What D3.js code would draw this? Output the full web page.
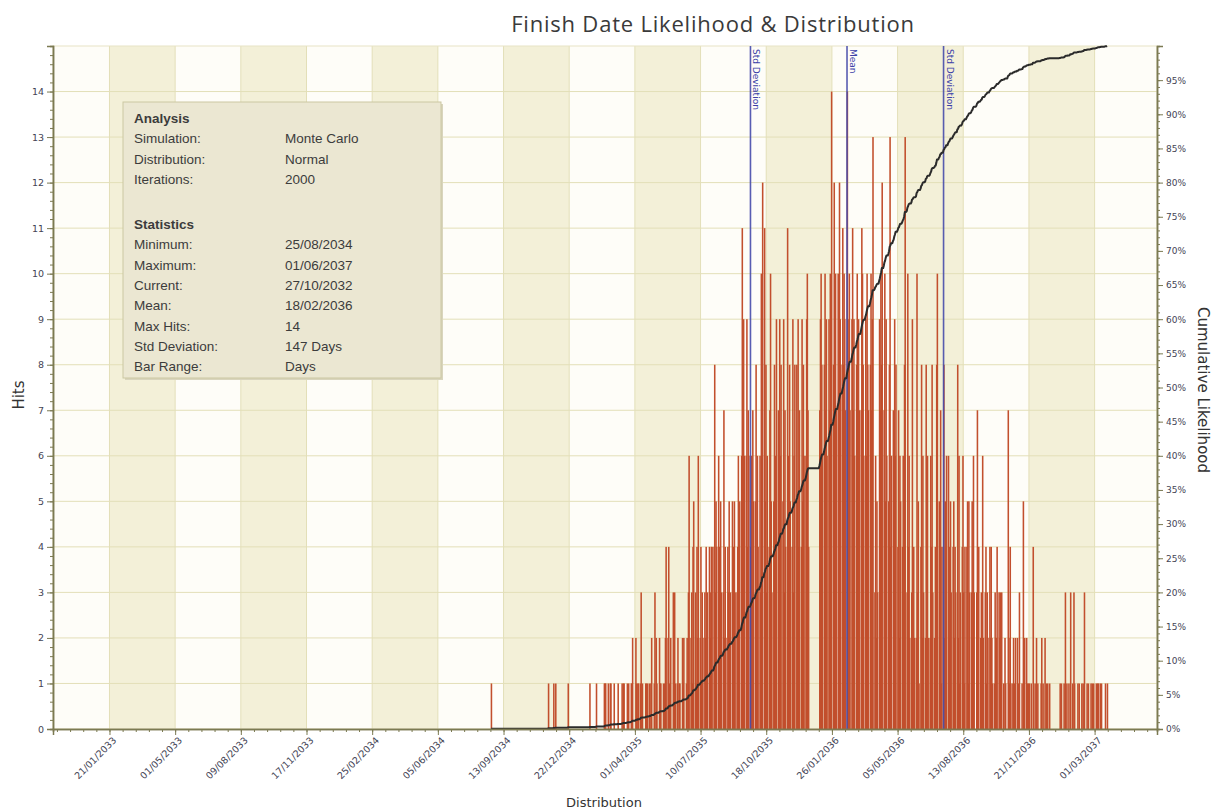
<!DOCTYPE html>
<html>
<head>
<meta charset="utf-8">
<script src="https://cdn.jsdelivr.net/npm/d3@7"></script>
<style>
  body { margin: 0; background: #ffffff; }
  svg text { font-family: "DejaVu Sans", Verdana, sans-serif; }
</style>
</head>
<body>
<div id="chart"></div>
<script>

// hits per working day, Mon..Fri, one hex digit per day, one string per week
const firstMonday = "21/08/2034";
const weeks2034 = ["00001", "00000", "00000", "00000", "00000", "00000", "00000", "00000", "00000", "00000",
                   "00000", "00000", "00000", "10000", "01001", "00000", "00000", "00100", "00000"];
const weeks2035 = ["00000", "00000", "00000", "10000", "00010", "00000", "01110", "10011", "00100", "01000",
                   "10110", "01010", "11200", "21011", "13010", "01101", "10120", "13021", "02110", "10124",
                   "24102", "03131", "12011", "02120", "12036", "23145", "31426", "24132", "32413", "43244",
                   "48354", "64253", "37242", "43523", "52453", "34635", "6b596", "69476", "46375", "58364",
                   "63a5c", "b5836", "47a53", "58469", "74968", "59374", "b6485", "49368", "85947", "49586",
                   "69a74", "00000", "00000"];
const weeks2036 = ["79a86", "8a796", "97a8e", "8c9a7", "a7c98", "b8a97", "e98a7", "9b796", "8a697", "7ba86",
                   "96a87", "8a79d", "36253", "97a8c", "7a596", "58d46", "74968", "47265", "4638d", "3a462",
                   "39142", "2a351", "48263", "28162", "26483", "2418a", "53714", "82516", "64253", "45243",
                   "82613", "46314", "45153", "35263", "03714", "23162", "34132", "42421", "13224", "32313",
                   "10210", "72141", "12102", "20130", "10512", "21011", "10041", "12010", "01201", "20101",
                   "10000", "00000"];
const weeks2037 = ["00101", "01031", "10013", "10310", "01010", "10103", "01010", "10101", "01011", "10100",
                   "01001"];

const tickLabels = ["21/01/2033", "01/05/2033", "09/08/2033", "17/11/2033", "25/02/2034", "05/06/2034",
                    "13/09/2034", "22/12/2034", "01/04/2035", "10/07/2035", "18/10/2035", "26/01/2036",
                    "05/05/2036", "13/08/2036", "21/11/2036", "01/03/2037"];
const hitTicks = [0, 1, 2, 3, 4, 5, 6, 7, 8, 9, 10, 11, 12, 13, 14];
const pctTicks = [0, 5, 10, 15, 20, 25, 30, 35, 40, 45, 50, 55, 60, 65, 70, 75, 80, 85, 90, 95];

const analysisRows = [["Simulation:", "Monte Carlo"], ["Distribution:", "Normal"], ["Iterations:", "2000"]];
const statsRows = [["Minimum:", "25/08/2034"], ["Maximum:", "01/06/2037"], ["Current:", "27/10/2032"],
                   ["Mean:", "18/02/2036"], ["Max Hits:", "14"], ["Std Deviation:", "147 Days"],
                   ["Bar Range:", "Days"]];

const meanDate = "18/02/2036";
const stdDays = 147;
const domainStart = "27/10/2032";
const domainEnd = "04/06/2037";

const W = 1215, H = 812;
const margin = {top: 46, right: 58, bottom: 83, left: 53};
const parseDMY = d3.utcParse("%d/%m/%Y");

// daily series from the weekly strings (weekends are zero)
const allWeeks = weeks2034.concat(weeks2035, weeks2036, weeks2037);
const start = parseDMY(firstMonday);
const days = [];
allWeeks.forEach((w, k) => {
    for (let i = 0; i < 7; i++) {
        const v = i < 5 ? parseInt(w[i], 16) : 0;
        days.push({date: d3.utcDay.offset(start, k * 7 + i), hits: v});
    }
});
const total = d3.sum(days, d => d.hits);
let run = 0;
days.forEach(d => { run += d.hits; d.cum = run / total; });
const firstHit = days.findIndex(d => d.hits > 0);
const lastHit = days.length - 1 - days.slice().reverse().findIndex(d => d.hits > 0);
const curve = days.slice(firstHit, lastHit + 1);

const svg = d3.select("#chart").append("svg")
    .attr("width", W)
    .attr("height", H);

const x = d3.scaleUtc()
    .domain([parseDMY(domainStart), parseDMY(domainEnd)])
    .range([margin.left, W - margin.right]);
const y = d3.scaleLinear()
    .domain([0, 15])
    .range([H - margin.bottom, margin.top]);
const yPct = d3.scaleLinear()
    .domain([0, 1])
    .range([H - margin.bottom, margin.top]);

const plotTop = margin.top, plotBottom = H - margin.bottom;
const tickDates = tickLabels.map(parseDMY);

// alternating bands between date ticks
const edges = [x.domain()[0]].concat(tickDates, [x.domain()[1]]);
svg.append("g").selectAll("rect")
    .data(d3.pairs(edges))
    .join("rect")
    .attr("x", d => x(d[0]))
    .attr("width", d => x(d[1]) - x(d[0]))
    .attr("y", plotTop)
    .attr("height", plotBottom - plotTop)
    .attr("fill", (d, i) => i % 2 === 1 ? "#f3f0d8" : "#fefdf8");

// grid
svg.append("g").selectAll("line")
    .data(hitTicks.slice(1))
    .join("line")
    .attr("x1", margin.left).attr("x2", W - margin.right)
    .attr("y1", d => y(d)).attr("y2", d => y(d))
    .attr("stroke", "#e3dfb8").attr("stroke-width", 1);
svg.append("g").selectAll("line")
    .data(tickDates)
    .join("line")
    .attr("x1", d => x(d)).attr("x2", d => x(d))
    .attr("y1", plotTop).attr("y2", plotBottom)
    .attr("stroke", "#e3dfb8").attr("stroke-width", 1);
svg.append("rect")
    .attr("x", margin.left).attr("y", plotTop)
    .attr("width", W - margin.left - margin.right).attr("height", plotBottom - plotTop)
    .attr("fill", "none").attr("stroke", "#e8e4c6");

// bars
svg.append("g").selectAll("rect")
    .data(days.filter(d => d.hits > 0))
    .join("rect")
    .attr("x", d => x(d.date) - 0.4)
    .attr("width", d => x(d3.utcDay.offset(d.date, 1)) - x(d.date) + 0.9)
    .attr("y", d => y(d.hits))
    .attr("height", d => y(0) - y(d.hits))
    .attr("fill", "#c24f2d");

// mean and std deviation markers
const mean = parseDMY(meanDate);
const markers = [
    {label: "Std Deviation", date: d3.utcDay.offset(mean, -stdDays)},
    {label: "Mean", date: mean},
    {label: "Std Deviation", date: d3.utcDay.offset(mean, stdDays)}
];
svg.append("g").selectAll("line")
    .data(markers)
    .join("line")
    .attr("x1", d => x(d.date)).attr("x2", d => x(d.date))
    .attr("y1", plotTop).attr("y2", plotBottom)
    .attr("stroke", "#474cab").attr("stroke-width", 1.6).attr("opacity", 0.9);
svg.append("g").selectAll("text")
    .data(markers)
    .join("text")
    .attr("transform", d => `translate(${x(d.date) + 3}, ${plotTop + 3}) rotate(90)`)
    .attr("font-size", 9)
    .attr("fill", "#3b3fa8")
    .text(d => d.label);

// cumulative likelihood
const line = d3.line()
    .x(d => x(d.date))
    .y(d => yPct(d.cum));
svg.append("path")
    .datum(curve)
    .attr("d", line)
    .attr("fill", "none")
    .attr("stroke", "#2b2b2b")
    .attr("stroke-width", 2)
    .attr("stroke-linejoin", "round");

// axes
const axisColor = "#7b7a52";
function styleAxis(g) {
    g.select(".domain").attr("stroke", axisColor).attr("stroke-width", 1.5);
    g.selectAll(".tick line").attr("stroke", axisColor);
    g.selectAll(".tick text").attr("fill", "#444455").attr("font-family", "DejaVu Sans");
}

const minorX = d3.utcDay.range(parseDMY(domainStart), parseDMY(domainEnd))
    .filter(d => Math.round((d - tickDates[0]) / 864e5) % 20 === 0);
svg.append("g")
    .attr("transform", `translate(0, ${plotBottom})`)
    .call(d3.axisBottom(x).tickValues(minorX).tickSize(3).tickFormat(""))
    .call(styleAxis);
const xAxis = svg.append("g")
    .attr("transform", `translate(0, ${plotBottom})`)
    .call(d3.axisBottom(x).tickValues(tickDates).tickSize(6).tickFormat((d, i) => tickLabels[i]))
    .call(styleAxis);
xAxis.selectAll(".tick text")
    .attr("font-size", 9.5)
    .attr("text-anchor", "end")
    .attr("transform", "translate(2, 4) rotate(-45)")
    .attr("dy", "0.35em")
    .attr("y", 6)
    .attr("x", -2);

svg.append("g")
    .attr("transform", `translate(${margin.left}, 0)`)
    .call(d3.axisLeft(y).tickValues(d3.range(0, 15.01, 0.2)).tickSize(3).tickFormat(""))
    .call(styleAxis);
svg.append("g")
    .attr("transform", `translate(${margin.left}, 0)`)
    .call(d3.axisLeft(y).tickValues(hitTicks).tickSize(6))
    .call(styleAxis)
    .selectAll(".tick text").attr("font-size", 9.5);

svg.append("g")
    .attr("transform", `translate(${W - margin.right}, 0)`)
    .call(d3.axisRight(yPct).tickValues(d3.range(0, 1.0001, 0.01)).tickSize(3).tickFormat(""))
    .call(styleAxis);
svg.append("g")
    .attr("transform", `translate(${W - margin.right}, 0)`)
    .call(d3.axisRight(yPct).tickValues(pctTicks.map(p => p / 100)).tickSize(6).tickFormat(d3.format(".0%")))
    .call(styleAxis)
    .selectAll(".tick text").attr("font-size", 9);

// titles
svg.append("text")
    .attr("x", 713).attr("y", 32)
    .attr("text-anchor", "middle")
    .style("font-family", "'Open Sans', sans-serif")
    .attr("font-size", 22)
    .attr("letter-spacing", 0.8)
    .attr("fill", "#3a3a3a")
    .text("Finish Date Likelihood & Distribution");
svg.append("text")
    .attr("x", 604).attr("y", 807)
    .attr("text-anchor", "middle")
    .attr("font-size", 13)
    .attr("fill", "#333")
    .text("Distribution");
svg.append("text")
    .attr("transform", "translate(24, 395) rotate(-90)")
    .attr("text-anchor", "middle")
    .attr("font-size", 15)
    .attr("fill", "#333")
    .text("Hits");
svg.append("text")
    .attr("transform", "translate(1198, 390) rotate(90)")
    .attr("text-anchor", "middle")
    .attr("font-size", 15)
    .attr("fill", "#333")
    .text("Cumulative Likelihood");

// info box
const box = svg.append("g").attr("transform", "translate(123, 102)");
box.append("rect")
    .attr("x", 2).attr("y", 2).attr("width", 318).attr("height", 276)
    .attr("fill", "#d9d5bd");
box.append("rect")
    .attr("width", 318).attr("height", 276)
    .attr("fill", "#ebe7d2")
    .attr("stroke", "#cbc7a2");
const rowH = 20.3;
function boxText(txt, xPos, yPos, bold) {
    box.append("text")
        .attr("x", xPos).attr("y", yPos)
        .style("font-family", "'Liberation Sans', Arial, sans-serif")
        .attr("font-size", 13.5)
        .attr("font-weight", bold ? "bold" : "normal")
        .attr("fill", "#3c3c3c")
        .text(txt);
}
boxText("Analysis", 11, 21, true);
analysisRows.forEach((r, i) => {
    boxText(r[0], 11, 21 + rowH * (i + 1));
    boxText(r[1], 162, 21 + rowH * (i + 1));
});
boxText("Statistics", 11, 127, true);
statsRows.forEach((r, i) => {
    boxText(r[0], 11, 127 + rowH * (i + 1));
    boxText(r[1], 162, 127 + rowH * (i + 1));
});

</script>
</body>
</html>
